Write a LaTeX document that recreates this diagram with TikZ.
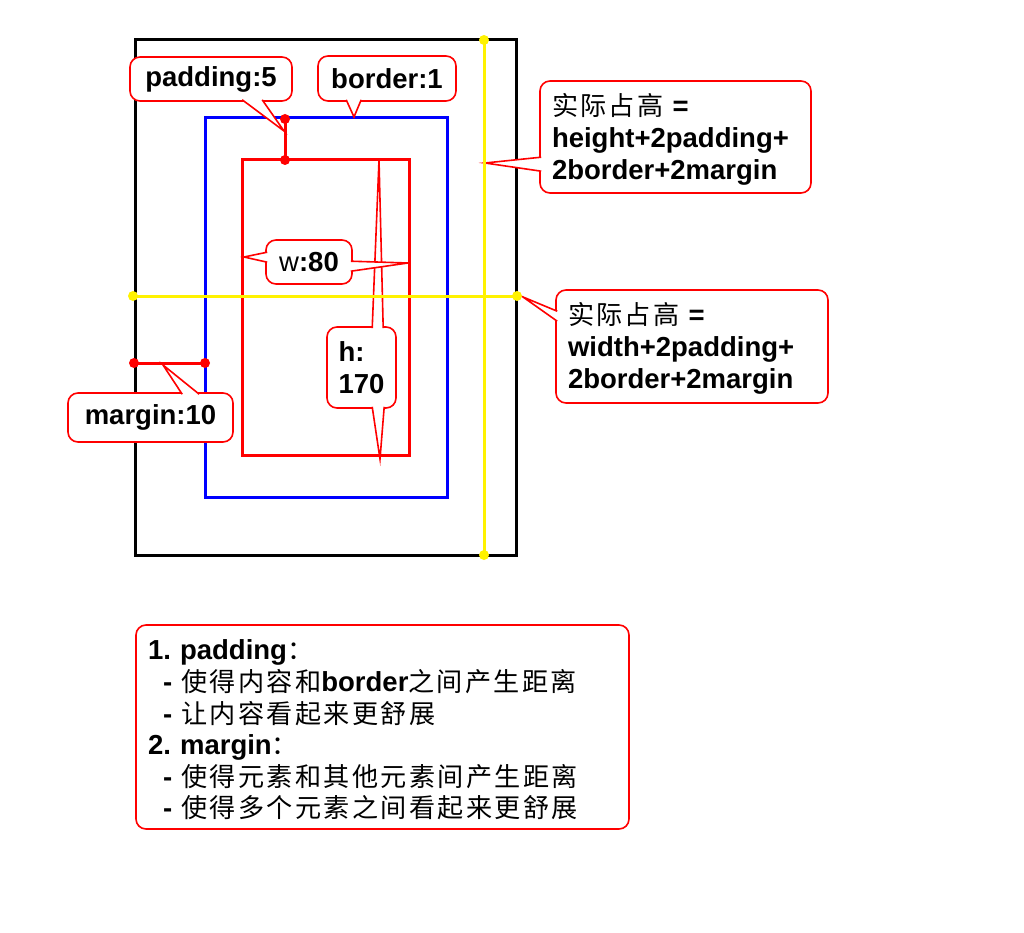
\documentclass[tikz,border=0pt]{standalone}
\usepackage{fontspec}
\setmainfont{Liberation Sans}
\newfontfamily\cjk{Noto Sans CJK SC}[Scale=0.95,LetterSpace=9]
\newcommand{\zh}[1]{{\cjk\mdseries #1}}
\newcommand{\topstrut}{\rule{0pt}{26pt}}
\frenchspacing
\usetikzlibrary{calc}

\newcommand{\callptr}[3]{%
  \fill[white] (#1) -- (#3) -- (#2) -- cycle;
  \draw[callline] (#1) -- (#3) -- (#2);}

\begin{document}
\begin{tikzpicture}
  [x=1pt, y=-1pt,
   callbox/.style={rectangle, rounded corners=10pt, draw=red, fill=white, line width=1.6pt,
     font=\bfseries\fontsize{27.5}{32}\selectfont, inner sep=0pt, align=center},
   callline/.style={red, line width=1.6pt, line join=miter},
   dot/.style={circle, fill=#1, inner sep=0pt, minimum size=10pt}]
  \useasboundingbox (0,0) rectangle (1024,933);

  % box model
  \draw[line width=3pt] (135,40) rectangle (516,555);
  \draw[blue, line width=3pt] (205,118) rectangle (447,497);
  \draw[red, line width=3pt] (242,160) rectangle (409,455);

  % padding and margin markers
  \coordinate (padtop) at (285,119);
  \coordinate (padbot) at (285,160);
  \coordinate (margl) at (134,363);
  \coordinate (margr) at (205,363);
  \draw[red, line width=3pt] (padtop) -- (padbot);
  \draw[red, line width=3pt] (margl) -- (margr);
  \foreach \p in {padtop, padbot, margl, margr} \node[dot=red] at (\p) {};

  % pointer tips
  \coordinate (padtip) at (284,131);
  \coordinate (bordtip) at (354,117);
  \coordinate (hgttip) at (485,163);
  \coordinate (widtip) at (523,297);
  \coordinate (margtip) at (163,365);
  \coordinate (wltip) at (244,257);
  \coordinate (wrtip) at (408,263);
  \coordinate (htoptip) at (379,160);
  \coordinate (hbottip) at (380,459);

  % callouts
  \node[callbox, minimum width=162pt, minimum height=44pt] (pad) at (211,79) {padding:5};
  \callptr{$(pad.south west)+(113,-2)$}{$(pad.south west)+(133,-2)$}{padtip}
  \node[callbox, minimum width=138pt, minimum height=45pt] (bord) at (387,78.5) {border:1};
  \callptr{$(bord.south west)+(29,-2)$}{$(bord.south west)+(44,-2)$}{bordtip}
  \node[callbox, minimum height=112pt, text width=247pt, inner xsep=12pt, align=left] (hgt) at (675.5,137)
    {\topstrut\zh{实际占高} =\\height+2padding+\\2border+2margin};
  \callptr{$(hgt.north west)+(2,77)$}{$(hgt.north west)+(2,91)$}{hgttip}
  \node[callbox, minimum height=113pt, text width=248pt, inner xsep=12pt, align=left] (wid) at (692,346.5)
    {\topstrut\zh{实际占高} =\\width+2padding+\\2border+2margin};
  \callptr{$(wid.north west)+(2,22)$}{$(wid.north west)+(2,32)$}{widtip}
  \node[callbox, minimum width=165pt, minimum height=49pt] (marg) at (150.5,417.5) {margin:10};
  \callptr{$(marg.north west)+(115,2)$}{$(marg.north west)+(132,2)$}{margtip}
  \node[callbox, minimum height=81pt, text width=46pt, inner xsep=11.5pt, align=left] (hbox) at (361.5,367.5) {h:\\170};
  \callptr{$(hbox.north west)+(46,2)$}{$(hbox.north west)+(57,2)$}{htoptip}
  \callptr{$(hbox.south west)+(46,-2)$}{$(hbox.south west)+(58,-2)$}{hbottip}
  \node[callbox, minimum width=86pt, minimum height=44pt] (wbox) at (309,262) {{\mdseries w}:80};
  \callptr{$(wbox.north west)+(2,13)$}{$(wbox.north west)+(2,23)$}{wltip}
  \callptr{$(wbox.north east)+(-2,22)$}{$(wbox.north east)+(-2,32)$}{wrtip}

  % yellow measuring lines
  \coordinate (ytop) at (484,40);
  \coordinate (ybot) at (484,555);
  \coordinate (yleft) at (133,296);
  \coordinate (yright) at (517,296);
  \draw[yellow, line width=3pt] (ytop) -- (ybot);
  \draw[yellow, line width=3pt] (yleft) -- (yright);
  \foreach \p in {ytop, ybot, yleft, yright} \node[dot=yellow] at (\p) {};

  % notes
  \node[callbox, minimum height=204pt, text width=469pt, inner xsep=12pt, align=left,
    font=\bfseries\fontsize{27.5}{31.6}\selectfont] (note) at (382.5,727)
    {\topstrut 1. padding\zh{：}\\
     \hspace*{15pt}- \zh{使得内容和}border\zh{之间产生距离}\\
     \hspace*{15pt}- \zh{让内容看起来更舒展}\\
     2. margin\zh{：}\\
     \hspace*{15pt}- \zh{使得元素和其他元素间产生距离}\\
     \hspace*{15pt}- \zh{使得多个元素之间看起来更舒展}};
\end{tikzpicture}
\end{document}
